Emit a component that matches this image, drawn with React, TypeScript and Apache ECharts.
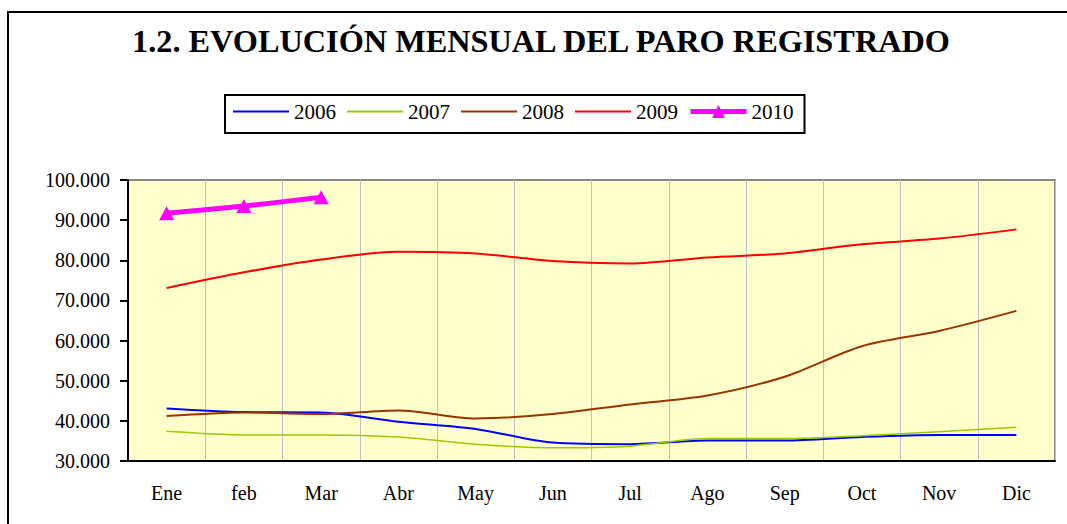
import React, { useEffect, useRef } from "react";
import * as echarts from "echarts";

const months = ["Ene", "feb", "Mar", "Abr", "May", "Jun", "Jul", "Ago", "Sep", "Oct", "Nov", "Dic"];
const s2006 = [43100, 42200, 42100, 39800, 38000, 34600, 34200, 35100, 35100, 36000, 36500, 36500];
const s2007 = [37400, 36500, 36500, 36000, 34200, 33300, 33700, 35600, 35600, 36300, 37300, 38400];
const s2008 = [41200, 42100, 41700, 42600, 40600, 41700, 44100, 46300, 51000, 58600, 62400, 67400];
const s2009 = [73100, 77000, 80200, 82100, 81700, 79800, 79200, 80700, 81700, 84000, 85400, 87700];
const s2010 = [91700, 93500, 95700];
const yTicks = { min: 30000, max: 100000, interval: 10000 };
const title = "1.2. EVOLUCIÓN MENSUAL DEL PARO REGISTRADO";

const FONT = "Liberation Serif";

export default function App() {
  const ref = useRef<HTMLDivElement>(null);
  useEffect(() => {
    if (!ref.current) return;
    const chart = echarts.init(ref.current, undefined, { renderer: "svg" });
    const lineSeries = (name: string, data: number[], color: string, width: number) => ({
      name,
      type: "line",
      data,
      smooth: 0.3,
      symbol: "none",
      showSymbol: false,
      lineStyle: { color, width },
      itemStyle: { color },
      z: 3,
    });
    chart.setOption({
      animation: false,
      graphic: [
        {
          type: "rect",
          shape: { x: 8, y: 12, width: 1100, height: 600 },
          style: { fill: "none", stroke: "#000", lineWidth: 2 },
          silent: true,
        },
        {
          type: "text",
          x: 541,
          y: 41,
          style: {
            text: title,
            fill: "#000",
            fontFamily: FONT,
            fontSize: 32.3,
            fontWeight: "bold",
            textAlign: "center",
            textVerticalAlign: "middle",
          },
        },
      ],
      legend: {
        left: 225,
        top: 95,
        orient: "horizontal",
        itemWidth: 56,
        itemHeight: 16,
        itemGap: 10,
        padding: [6, 11, 11, 7],
        borderColor: "#000",
        borderWidth: 2,
        backgroundColor: "#fff",
        textStyle: { fontFamily: FONT, fontSize: 21, color: "#000", lineHeight: 21 },
        data: [
          { name: "2006", itemStyle: { opacity: 0 } },
          { name: "2007", itemStyle: { opacity: 0 } },
          { name: "2008", itemStyle: { opacity: 0 } },
          { name: "2009", itemStyle: { opacity: 0 } },
          { name: "2010", lineStyle: { width: 5 } },
        ],
      },
      grid: {
        left: 128,
        right: 12,
        top: 180,
        bottom: 63,
        show: true,
        backgroundColor: "#FFFFCC",
        borderColor: "#888888",
        borderWidth: 2,
      },
      xAxis: {
        type: "category",
        data: months,
        boundaryGap: true,
        axisLine: { show: true, lineStyle: { color: "#000", width: 2 } },
        axisTick: { show: false, interval: 0 },
        axisLabel: { interval: 0, margin: 22, fontFamily: FONT, fontSize: 20, color: "#000" },
        splitLine: { show: true, interval: 0, lineStyle: { color: "#C0C0C0", width: 1 } },
      },
      yAxis: {
        type: "value",
        min: yTicks.min,
        max: yTicks.max,
        interval: yTicks.interval,
        axisLine: { show: true, lineStyle: { color: "#000", width: 2 } },
        axisTick: { show: true, inside: false, length: 8, lineStyle: { color: "#000", width: 2 } },
        axisLabel: {
          margin: 18,
          fontFamily: FONT,
          fontSize: 20,
          color: "#000",
          formatter: (v: number) => `${Math.round(v / 1000)}.000`,
        },
        splitLine: { show: false },
      },
      series: [
        lineSeries("2006", s2006, "#0000FF", 2),
        lineSeries("2007", s2007, "#99CC00", 1.5),
        lineSeries("2008", s2008, "#993300", 2),
        lineSeries("2009", s2009, "#FF0000", 2),
        {
          name: "2010",
          type: "line",
          data: s2010,
          smooth: 0.3,
          symbol: "triangle",
          symbolSize: [15, 14],
          showSymbol: true,
          lineStyle: { color: "#FF00FF", width: 5 },
          itemStyle: { color: "#FF00FF" },
          z: 4,
        },
      ],
    });
    return () => chart.dispose();
  }, []);
  return (
    <div
      ref={ref}
      style={{ position: "fixed", left: 0, top: 0, width: 1067, height: 524, background: "#fff" }}
    />
  );
}
